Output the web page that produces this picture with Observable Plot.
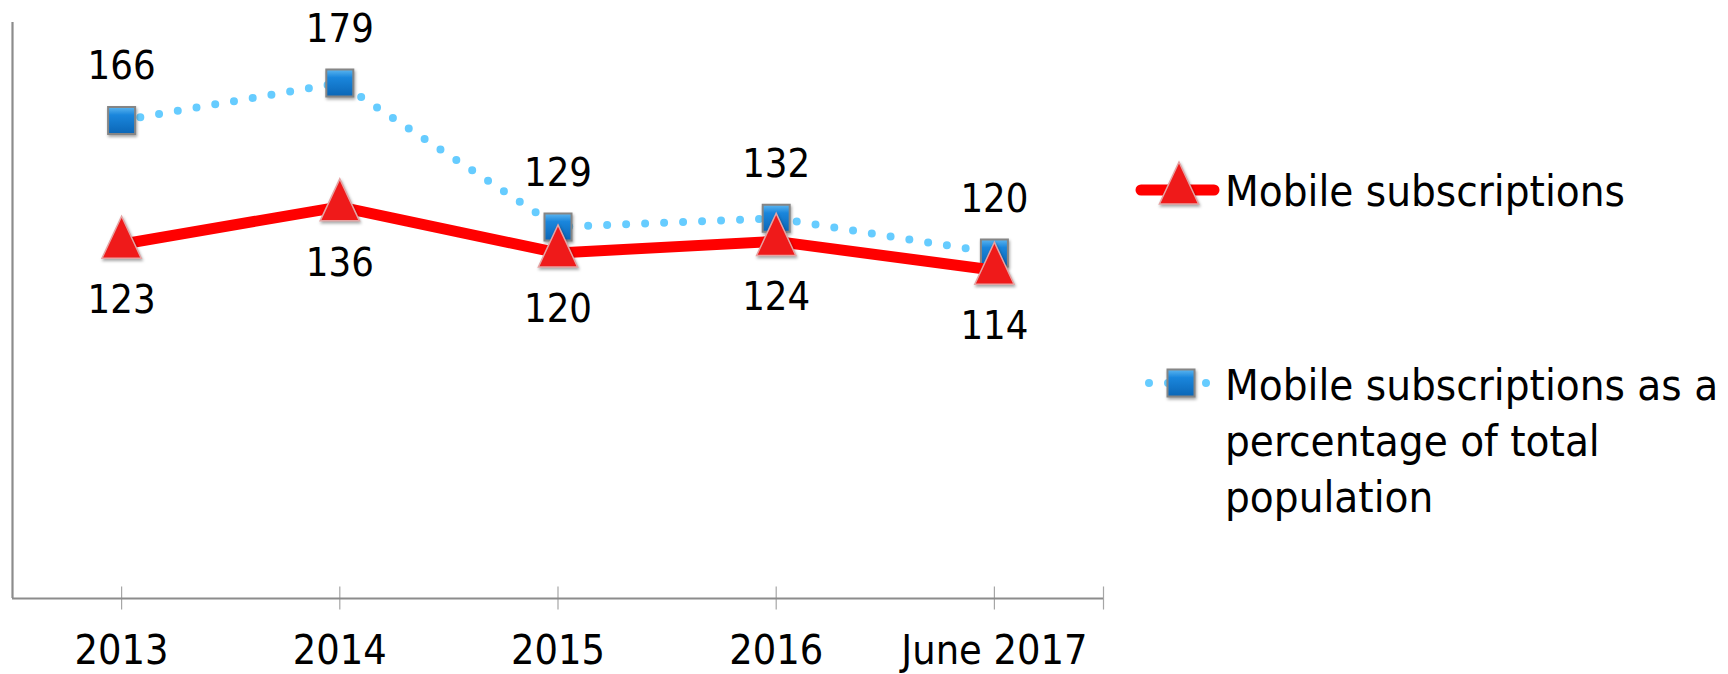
<!DOCTYPE html>
<html><head><meta charset="utf-8">
<script src="https://cdn.jsdelivr.net/npm/d3@7"></script>
<script src="https://cdn.jsdelivr.net/npm/@observablehq/plot@0.6"></script>
<style>
html,body{margin:0;padding:0;background:#fff;}
#wrap{position:relative;width:1728px;height:674px;overflow:hidden;}
#chart{position:absolute;left:0;top:0;}
#legend{position:absolute;left:1135px;top:0;}
svg g[aria-label="dot"] path{filter:drop-shadow(1px 2px 1.5px rgba(0,0,0,0.35));}
</style></head><body>
<div id="wrap"><div id="chart"></div><div id="legend"></div></div>
<script>
const categories = ["2013", "2014", "2015", "2016", "June 2017"];
const mobileSubscriptions = [123, 136, 120, 124, 114];
const mobilePctPopulation = [166, 179, 129, 132, 120];
const seriesNames = ["Mobile subscriptions", "Mobile subscriptions as a percentage of total population"];
const legendLines = [["Mobile subscriptions"], ["Mobile subscriptions as a", "percentage of total", "population"]];
const tickPositions = [0, 1, 2, 3, 4, 4.5];

const data = categories.map((c, i) => ({i, cat: c, subs: mobileSubscriptions[i], pct: mobilePctPopulation[i]}));

// pick a narrow font if one is installed, else Roboto
const ctx = document.createElement("canvas").getContext("2d");
function widthOf(str, fam, size) { ctx.font = `${size}px ${fam}`; return ctx.measureText(str).width; }
function available(name) {
  const s = "Mobile 2013 abcdefghijklm";
  return widthOf(s, "monospace", 40) !== widthOf(s, `"${name}", monospace`, 40);
}
const candidates = ["Liberation Sans Narrow", "DejaVu Sans Condensed", "Roboto Condensed", "Arial Narrow", "Roboto"];
const famName = candidates.find(available) || "Liberation Sans";
const FONT = `"${famName}", "Liberation Sans", sans-serif`;
const dataSize = Math.min(56, 100 * 68 / widthOf("166", FONT, 100));
const axisSize = Math.min(56, 100 * 94 / widthOf("2013", FONT, 100));
const legSize = Math.min(58, 100 * 400 / widthOf("Mobile subscriptions", FONT, 100), 100 * 500 / widthOf("Mobile subscriptions as a", FONT, 100));

const tri = {draw(c, size) { const r = Math.sqrt(size / Math.PI);
  c.moveTo(0, -1.4 * r); c.lineTo(0.98 * r, 0.7 * r); c.lineTo(-0.98 * r, 0.7 * r); c.closePath(); }};
const sq = {draw(c, size) { const r = Math.sqrt(size / Math.PI); c.rect(-r, -r, 2 * r, 2 * r); }};

const chart = Plot.plot({
  width: 1130, height: 674,
  marginLeft: 12, marginRight: 27, marginTop: 22, marginBottom: 76,
  style: {fontFamily: FONT, fontSize: axisSize + "px", color: "#000", background: "transparent", overflow: "visible"},
  x: {type: "linear", domain: [-0.5, 4.5], ticks: [0, 1, 2, 3, 4], tickFormat: i => categories[i],
      tickSize: 0, tickPadding: 663 - 598 - 0.71 * axisSize, label: null},
  y: {domain: [0, 200], axis: null},
  marks: [
    Plot.ruleX(tickPositions, {y1: -4, y2: 4, stroke: "#a6a6a6", strokeWidth: 1.2}),
    Plot.ruleY([0], {stroke: "#8c8c8c", strokeWidth: 2.2}),
    Plot.ruleX([-0.5], {stroke: "#8c8c8c", strokeWidth: 2.2}),
    Plot.line(data, {x: "i", y: "pct", stroke: "#66ccff", strokeWidth: 8, strokeDasharray: "0 19", strokeLinecap: "round"}),
    Plot.dot(data, {x: "i", y: "pct", symbol: sq, r: 13.5, fill: "url(#sqGrad)", stroke: "#858585", strokeWidth: 2}),
    Plot.line(data, {x: "i", y: "subs", stroke: "#ff0000", strokeWidth: 11, strokeLinejoin: "round"}),
    Plot.dot(data, {x: "i", y: "subs", symbol: tri, r: 20, fill: "#ef1a1a", stroke: "#e6a3a3", strokeWidth: 1.5}),
    Plot.text(data, {x: "i", y: "pct", text: d => String(d.pct), dy: -54, fontSize: dataSize, fill: "#000"}),
    Plot.text(data, {x: "i", y: "subs", text: d => String(d.subs), dy: 56, fontSize: dataSize, fill: "#000"})
  ]
});
d3.select(chart).insert("defs", ":first-child").html(
  '<linearGradient id="sqGrad" x1="0" y1="0" x2="0" y2="1">' +
  '<stop offset="0" stop-color="#5cb6f0"/><stop offset="0.3" stop-color="#1a86dc"/><stop offset="1" stop-color="#0b66b6"/></linearGradient>');
document.getElementById("chart").appendChild(chart);

// Legend (SVG beside the chart)
const lg = d3.select("#legend").append("svg").attr("width", 593).attr("height", 674)
  .style("font-family", FONT).style("font-size", legSize + "px");
const shadow = "drop-shadow(1px 2px 1.5px rgba(0,0,0,0.35))";
// item 1
lg.append("line").attr("x1", 6).attr("x2", 79).attr("y1", 190).attr("y2", 190)
  .attr("stroke", "#ff0000").attr("stroke-width", 11).attr("stroke-linecap", "round");
lg.append("path").attr("d", "M44,162 L63.6,204 L24.4,204 Z").attr("fill", "#ef1a1a")
  .attr("stroke", "#e6a3a3").attr("stroke-width", 1.5).style("filter", shadow);
// item 2
lg.append("line").attr("x1", 14).attr("x2", 72).attr("y1", 383).attr("y2", 383)
  .attr("stroke", "#66ccff").attr("stroke-width", 8).attr("stroke-linecap", "round").attr("stroke-dasharray", "0 19");
lg.append("rect").attr("x", 32.5).attr("y", 369.5).attr("width", 27).attr("height", 27)
  .attr("fill", "url(#sqGrad)").attr("stroke", "#858585").attr("stroke-width", 2).style("filter", shadow);
const baselines = [[206], [400, 456, 512]];
legendLines.forEach((lines, k) => lines.forEach((t, j) =>
  lg.append("text").attr("x", 90).attr("y", baselines[k][j]).attr("fill", "#000").text(t)));
</script>
</body></html>
